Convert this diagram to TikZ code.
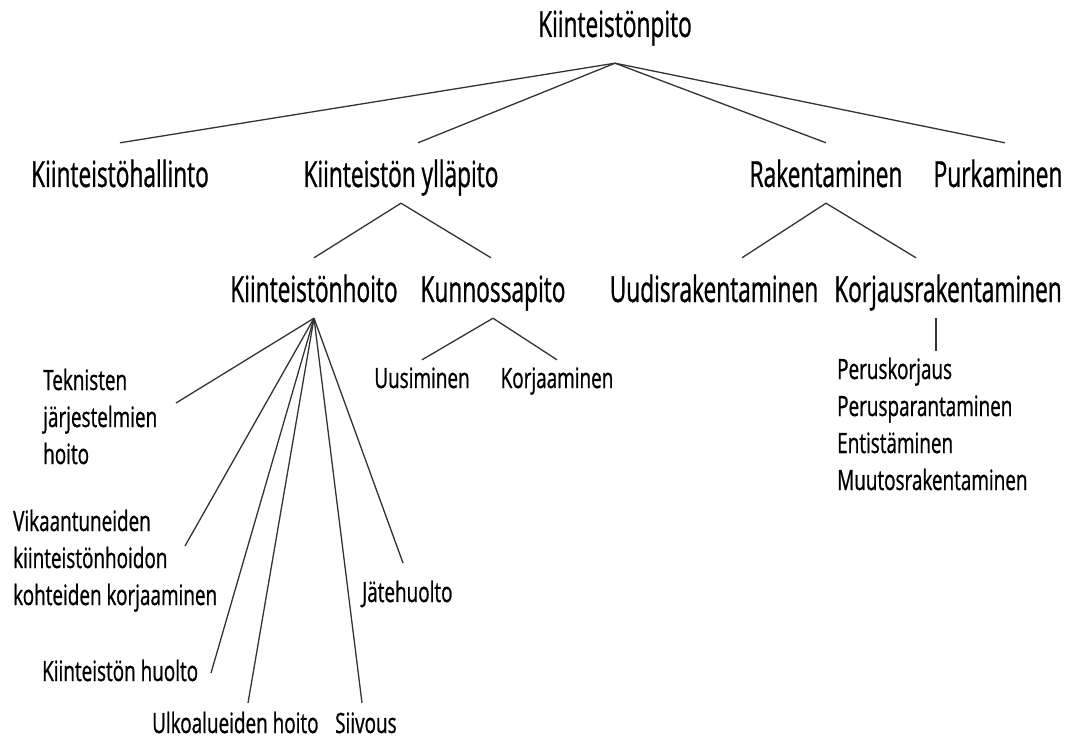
\documentclass[tikz,border=0pt]{standalone}
\usepackage{fontspec}
\setmainfont[FakeStretch=0.63, FakeBold=0.8]{Open Sans}
\newfontfamily\leaffont[FakeStretch=0.675, FakeBold=0.8]{Open Sans}
\begin{document}
\begin{tikzpicture}[x=1pt, y=-1pt,
    head/.style={anchor=base, inner sep=0pt, text height=44pt, text depth=16pt,
        font=\fontsize{36}{40}\selectfont},
    leaf/.style={anchor=base, inner sep=0pt, text height=28pt, text depth=6pt,
        font=\leaffont\fontsize{28}{37}\selectfont},
    note/.style={anchor=base west, inner sep=0pt, align=left,
        font=\leaffont\fontsize{28}{37}\selectfont},
    link/.style={line width=1.3pt, black!80}
]
    \useasboundingbox (0,0) rectangle (1079,738);
    % top levels
    \node[head, text depth=26pt] (pito) at (615,37) {Kiinteistönpito};
    \node[head] (hallinto) at (120,187) {Kiinteistöhallinto};
    \node[head] (yllapito) at (401,187) {Kiinteistön ylläpito};
    \node[head] (rak) at (826,187) {Rakentaminen};
    \node[head] (purku) at (998,187) {Purkaminen};
    \node[head] (hoito) at (314,302) {Kiinteistönhoito};
    \node[head] (kunnossa) at (493,302) {Kunnossapito};
    \node[head] (uudis) at (714,302) {Uudisrakentaminen};
    \node[head] (korjaus) at (948,302) {Korjausrakentaminen};
    % leaves (multi-line: placed at the last baseline)
    \node[leaf] (uusi) at (422,388) {Uusiminen};
    \node[leaf] (korj) at (557,388) {Korjaaminen};
    \node[note] (tekn) at (43,464) {Teknisten\\järjestelmien\\hoito};
    \node[note] (vika) at (13,605) {Vikaantuneiden\\kiinteistönhoidon\\kohteiden korjaaminen};
    \node[note] (huolto) at (42,681) {Kiinteistön huolto};
    \node[note] (ulko) at (152,733) {Ulkoalueiden hoito};
    \node[note] (siivo) at (335,733) {Siivous};
    \node[note] (jate) at (362,602) {Jätehuolto};
    \node[note] (lista) at (837,490) {Peruskorjaus\\Perusparantaminen\\Entistäminen\\Muutosrakentaminen};
    % free ends
    \coordinate (tekn-end) at (176,403);
    \coordinate (vika-end) at (185,546);
    \coordinate (huolto-end) at (211,673);
    \coordinate (ulko-end) at (248,703);
    \coordinate (siivo-end) at (362,703);
    \coordinate (jate-end) at (403,563);
    \coordinate (lista-end) at (936,351);
    % connectors
    \foreach \n/\dx in {hallinto/0, yllapito/17, rak/0, purku/7}
        \draw[link] (pito.south) -- ([xshift=\dx pt]\n.north);
    \draw[link] (yllapito.south) -- (hoito.north);
    \draw[link] (yllapito.south) -- ([xshift=-2pt]kunnossa.north);
    \draw[link] (rak.south) -- ([xshift=28pt]uudis.north);
    \draw[link] (rak.south) -- ([xshift=-32pt]korjaus.north);
    \draw[link] (kunnossa.south) -- (uusi.north);
    \draw[link] (kunnossa.south) -- (korj.north);
    \draw[link] ([xshift=-12pt]korjaus.south) -- (lista-end);
    \foreach \e in {tekn, vika, huolto, ulko, siivo, jate}
        \draw[link] (hoito.south) -- (\e-end);
\end{tikzpicture}
\end{document}
